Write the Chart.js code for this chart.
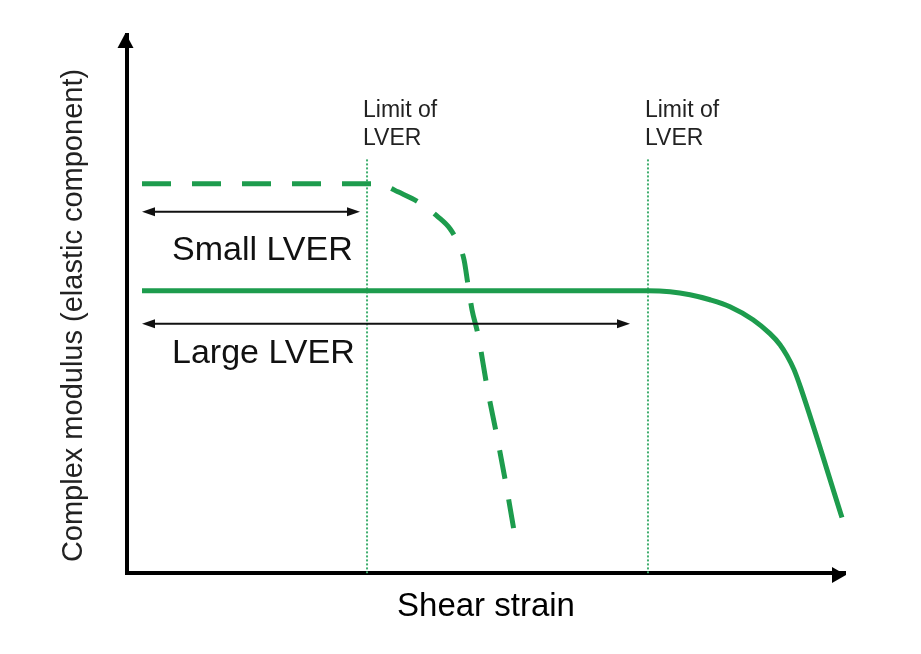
<!DOCTYPE html>
<html>
<head>
<meta charset="utf-8">
<script src="https://cdn.jsdelivr.net/npm/chart.js@4/dist/chart.umd.min.js"></script>
<style>
  html, body { margin: 0; padding: 0; background: #ffffff; }
  #wrap { width: 921px; height: 654px; }
</style>
</head>
<body>
<div id="wrap"><canvas id="c" width="921" height="654"></canvas></div>
<script>
// ---- data (abstract units: x 0..100 shear strain, y 0..100 modulus) ----
const smallX = [2.09, 33.84, 35.93, 37.74, 40.53, 43.31, 44.99, 46.10, 46.94, 47.49, 48.05, 48.89, 50.14, 51.53, 52.79, 54.04];
const smallY = [72.36, 72.36, 71.99, 70.87, 69.02, 66.23, 64.01, 61.41, 58.26, 53.62, 48.98, 44.34, 34.69, 25.42, 16.51, 6.86];
const largeX = [2.09, 72.56, 75.63, 78.41, 81.20, 83.98, 87.19, 89.55, 90.95, 91.92, 92.90, 93.87, 99.58];
const largeY = [52.50, 52.50, 52.32, 51.76, 50.83, 49.54, 47.12, 44.53, 42.49, 40.45, 37.85, 34.32, 10.39];
const limitX = [33.43, 72.56];
const limitTop = 77.18;
const limitLabels = [["Limit of", "LVER"], ["Limit of", "LVER"]];
const limitLabelX = [32.87, 72.14];
const limitLabelY = [85.9, 80.7];
const spanLabels = ["Small LVER", "Large LVER"];
const spanStart = [2.09, 2.09];
const spanEnd = [32.45, 70.06];
const spanY = [67.16, 46.38];
const spanLabelX = [6.27, 6.27];
const spanLabelY = [60.0, 40.9];
const xTitle = "Shear strain";
const yTitle = "Complex modulus (elastic component)";
const yTitleCenter = 47.9;

const GREEN = "#1d9c4d";
const DOT_GREEN = "#3fae6e";
const FONT = "'Liberation Sans', Arial, sans-serif";

function pts(xs, ys) { return xs.map((x, i) => ({ x: x, y: ys[i] })); }

const datasets = [
  {
    label: "Small LVER",
    data: pts(smallX, smallY),
    borderColor: GREEN, borderWidth: 5, borderDash: [29, 21], borderCapStyle: "butt",
    pointRadius: 0, cubicInterpolationMode: "monotone", fill: false
  },
  {
    label: "Large LVER",
    data: pts(largeX, largeY),
    borderColor: GREEN, borderWidth: 5, borderCapStyle: "butt",
    pointRadius: 0, cubicInterpolationMode: "monotone", fill: false
  }
];
limitX.forEach((lx, i) => {
  datasets.push({
    label: "limit" + i,
    data: [{ x: lx, y: 0 }, { x: lx, y: limitTop }],
    borderColor: DOT_GREEN, borderWidth: 2, borderDash: [2, 2],
    pointRadius: 0, fill: false, tension: 0
  });
});

const decor = {
  id: "decor",
  afterDatasetsDraw(chart) {
    const ctx = chart.ctx;
    const xs = chart.scales.x, ys = chart.scales.y;
    ctx.save();
    // span arrows
    ctx.strokeStyle = "#111"; ctx.fillStyle = "#111"; ctx.lineWidth = 2;
    spanStart.forEach((s, i) => {
      const x1 = xs.getPixelForValue(s), x2 = xs.getPixelForValue(spanEnd[i]);
      const y = ys.getPixelForValue(spanY[i]);
      ctx.beginPath(); ctx.moveTo(x1 + 6, y); ctx.lineTo(x2 - 6, y); ctx.stroke();
      ctx.beginPath(); ctx.moveTo(x1, y); ctx.lineTo(x1 + 13, y - 4.5); ctx.lineTo(x1 + 13, y + 4.5); ctx.closePath(); ctx.fill();
      ctx.beginPath(); ctx.moveTo(x2, y); ctx.lineTo(x2 - 13, y - 4.5); ctx.lineTo(x2 - 13, y + 4.5); ctx.closePath(); ctx.fill();
    });
    // span labels
    ctx.font = "34px " + FONT; ctx.textAlign = "left"; ctx.textBaseline = "middle";
    spanLabels.forEach((t, i) => {
      ctx.fillText(t, xs.getPixelForValue(spanLabelX[i]), ys.getPixelForValue(spanLabelY[i]));
    });
    // limit labels
    ctx.font = "23px " + FONT; ctx.fillStyle = "#222";
    limitLabels.forEach((lines, i) => {
      lines.forEach((t, j) => {
        ctx.fillText(t, xs.getPixelForValue(limitLabelX[i]), ys.getPixelForValue(limitLabelY[j]));
      });
    });
    ctx.restore();
  },
  afterDraw(chart) {
    const ctx = chart.ctx;
    const a = chart.chartArea;
    const ys = chart.scales.y;
    ctx.save();
    ctx.fillStyle = "#000";
    // y axis arrowhead
    const yx = a.left - 1.5;
    ctx.beginPath(); ctx.moveTo(yx, a.top - 2); ctx.lineTo(yx - 8, a.top + 13); ctx.lineTo(yx + 8, a.top + 13); ctx.closePath(); ctx.fill();
    // x axis arrowhead
    const xy = a.bottom + 1.5;
    ctx.beginPath(); ctx.moveTo(a.right + 1, xy); ctx.lineTo(a.right - 13, xy - 8); ctx.lineTo(a.right - 13, xy + 8); ctx.closePath(); ctx.fill();
    // y axis title
    ctx.translate(74, ys.getPixelForValue(yTitleCenter));
    ctx.rotate(-Math.PI / 2);
    ctx.font = "29px " + FONT; ctx.fillStyle = "#222";
    ctx.textAlign = "center"; ctx.textBaseline = "middle";
    ctx.fillText(yTitle, 0, 0);
    ctx.restore();
  }
};

new Chart(document.getElementById("c"), {
  type: "line",
  data: { datasets: datasets },
  options: {
    responsive: false,
    animation: false,
    layout: { padding: { left: 127, right: 76, top: 35, bottom: 10 } },
    plugins: { legend: { display: false }, tooltip: { enabled: false }, title: { display: false } },
    scales: {
      x: {
        type: "linear", min: 0, max: 100,
        grid: { display: false, drawTicks: false },
        ticks: { display: false },
        border: { display: true, color: "#000", width: 4 },
        title: { display: true, text: xTitle, color: "#000", font: { family: FONT, size: 33 }, padding: { top: 13.8, bottom: 17.2 } }
      },
      y: {
        type: "linear", min: 0, max: 100,
        grid: { display: false, drawTicks: false },
        ticks: { display: false },
        border: { display: true, color: "#000", width: 4 },
        title: { display: false }
      }
    }
  },
  plugins: [decor]
});
</script>
</body>
</html>
